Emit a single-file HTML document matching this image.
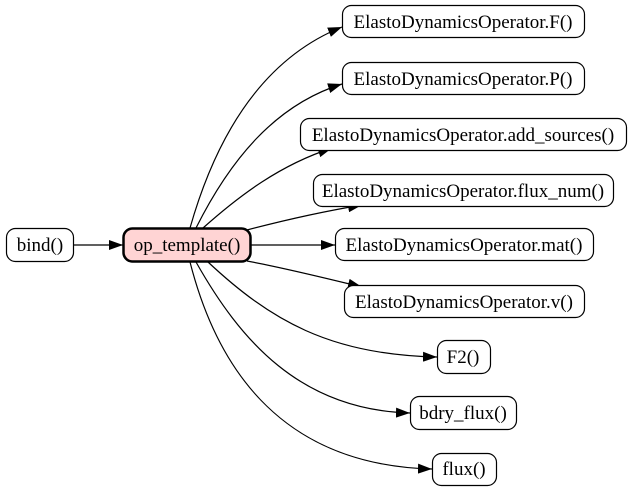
<!DOCTYPE html>
<html><head><meta charset="utf-8"><style>
html,body{margin:0;padding:0;background:#fff;}
svg{display:block;}
text{font-family:"Liberation Serif",serif;font-size:19px;fill:#000;}
</style></head><body>
<svg width="635" height="491" viewBox="0 0 635 491" xmlns="http://www.w3.org/2000/svg">
<defs>
<marker id="a" viewBox="0 0 14 10" refX="14" refY="5" markerWidth="14" markerHeight="10" markerUnits="userSpaceOnUse" orient="auto">
<path d="M0,0 L14,5 L0,10 Z" fill="#000"/>
</marker>
</defs>
<g fill="none" stroke="#000" stroke-width="1.2" marker-end="url(#a)">
<path d="M73,245 L123,245"/>
<path d="M190,228 C215,140 260,60 342,27"/>
<path d="M196,228 C230,160 275,105 342,84"/>
<path d="M203,228 C240,195 280,165 332,148"/>
<path d="M247,230 C285,220 320,212 362,205"/>
<path d="M250,245 L335,245"/>
<path d="M247,261 C285,268 325,278 362,287"/>
<path d="M208,262 C270,320 330,355 437,357"/>
<path d="M196,262 C240,340 300,410 410,413"/>
<path d="M190,262 C215,360 275,465 432,469"/>
</g>
<g stroke="#000" stroke-width="1.2" fill="#fff">
<rect x="6.5" y="228.5" width="67" height="33" rx="9"/>
<rect x="342.5" y="5.5" width="242" height="32" rx="9"/>
<rect x="342.5" y="62.5" width="242" height="32" rx="9"/>
<rect x="300.5" y="118.5" width="326" height="32" rx="9"/>
<rect x="313.5" y="174.5" width="300" height="32" rx="9"/>
<rect x="335.5" y="228.5" width="258" height="32" rx="9"/>
<rect x="344.5" y="285.5" width="240" height="32" rx="9"/>
<rect x="437.5" y="340.5" width="53" height="33" rx="9"/>
<rect x="410.5" y="396.5" width="106" height="33" rx="9"/>
<rect x="432.5" y="453.5" width="64" height="32" rx="9"/>
</g>
<rect x="123.5" y="228.5" width="127" height="33" rx="9" fill="#ffd4d4" stroke="#000" stroke-width="2.5"/>
<g text-anchor="middle">
<text x="40" y="251">bind()</text>
<text x="187" y="251">op_template()</text>
<text x="463" y="28">ElastoDynamicsOperator.F()</text>
<text x="463" y="85">ElastoDynamicsOperator.P()</text>
<text x="463" y="141">ElastoDynamicsOperator.add_sources()</text>
<text x="463" y="197">ElastoDynamicsOperator.flux_num()</text>
<text x="464" y="251">ElastoDynamicsOperator.mat()</text>
<text x="464" y="308">ElastoDynamicsOperator.v()</text>
<text x="463" y="363">F2()</text>
<text x="463" y="419">bdry_flux()</text>
<text x="464" y="475">flux()</text>
</g>
</svg>
</body></html>
